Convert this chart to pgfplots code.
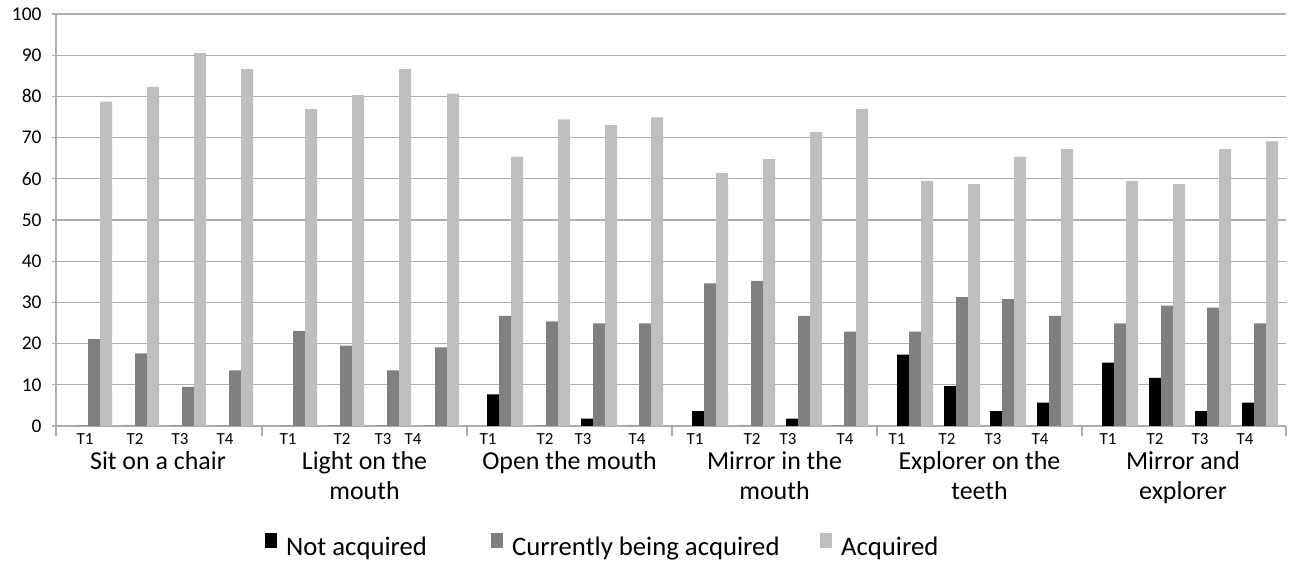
\documentclass[border=0pt]{standalone}
\usepackage{pgfplots}
\pgfplotsset{compat=1.18}
\usepackage{pgfplotstable}
\usepackage{fontspec}
\setmainfont{Carlito}
\definecolor{darkbar}{HTML}{808080}
\definecolor{lightbar}{HTML}{BFBFBF}
\definecolor{gridc}{HTML}{ADADAD}
\pgfplotsset{sqleg/.style={legend image code/.code={\fill[##1] (0bp,-1bp) rectangle (12bp,14bp);}}}
\pgfplotstableread{
pos nacq curr acq
94 0 21.1 78.7
141 0 17.6 82.3
188 0 9.5 90.5
235 0 13.5 86.6
299 0 23.0 76.9
346 0 19.5 80.3
393 0 13.5 86.6
441 0 19.1 80.7
505 7.7 26.7 65.4
552 0 25.4 74.4
599 1.8 24.9 73.0
645 0 24.9 74.9
710 3.6 34.6 61.4
757 0 35.2 64.8
804 1.8 26.7 71.3
850 0 22.9 76.9
915 17.3 22.9 59.5
962 9.7 31.3 58.7
1008 3.6 30.8 65.4
1055 5.7 26.7 67.2
1120 15.4 24.9 59.5
1167 11.7 29.2 58.7
1213 3.6 28.7 67.2
1260 5.7 24.9 69.1
}\datatab
\begin{document}
\begin{tikzpicture}[x=1bp,y=1bp]
\useasboundingbox (0,0) rectangle (1289,561);
\begin{axis}[
  at={(56bp,135bp)}, anchor=south west,
  scale only axis, width=1230bp, height=412bp,
  xmin=56, xmax=1286, ymin=0, ymax=100,
  ytick={0,10,...,100},
  ymajorgrids, grid style={gridc, line width=1.1bp},
  axis x line*=bottom, axis y line*=left,
  axis line style={gridc, line width=1.1bp},
  tick align=outside,
  major tick length=4bp,
  ytick style={gridc, line width=1.1bp},
  xtick={56,262,467,672,877,1082,1286},
  xticklabels={},
  xtick style={gridc, line width=1.1bp, /pgfplots/major tick length=10bp},
  /pgf/number format/assume math mode=true,
  yticklabel style={font=\fontsize{19.5}{21}\selectfont, anchor=east, xshift=-7bp},
  ybar, clip=false,
  legend columns=3,
  legend style={at={(0.4445,-0.2913)}, anchor=center, draw=none, fill=none,
    font=\fontsize{26.8}{28}\selectfont,
    /tikz/every even column/.append style={column sep=0bp},
    /tikz/every odd column/.append style={column sep=7bp}},
]
\addplot[fill=black, draw=none, bar width=12bp, bar shift=-12bp, sqleg] table[x=pos,y=nacq]{\datatab};
\addplot[fill=darkbar, draw=none, bar width=12bp, bar shift=0bp, sqleg] table[x=pos,y=curr]{\datatab};
\addplot[fill=lightbar, draw=none, bar width=12bp, bar shift=12bp, sqleg] table[x=pos,y=acq]{\datatab};
\legend{\makebox[203bp][l]{Not acquired}, \makebox[306bp][l]{Currently being acquired}, Acquired}
\end{axis}
\begin{scope}[every node/.style={anchor=base, inner sep=0pt, font=\fontsize{17}{19}\selectfont}]
\foreach \xx/\tt in {85/T1,135/T2,180/T3,225/T4,288/T1,342/T2,383/T3,413/T4,
  488/T1,545/T2,583/T3,637/T4,695/T1,752/T2,788/T3,845/T4,
  897/T1,947/T2,993/T3,1040/T4,1108/T1,1155/T2,1200/T3,1245/T4}
  {\node at (\xx,116) {\tt};}
\end{scope}
\begin{scope}[every node/.style={anchor=base, inner sep=0pt, font=\fontsize{26}{30}\selectfont}]
\node at (158,91) {Sit on a chair};
\node at (364.5,91) {Light on the};
\node at (364.5,61) {mouth};
\node at (569.5,91) {Open the mouth};
\node at (774.5,91) {Mirror in the};
\node at (774.5,61) {mouth};
\node at (979.5,91) {Explorer on the};
\node at (979.5,61) {teeth};
\node at (1183,91) {Mirror and};
\node at (1183,61) {explorer};
\end{scope}
\end{tikzpicture}
\end{document}
